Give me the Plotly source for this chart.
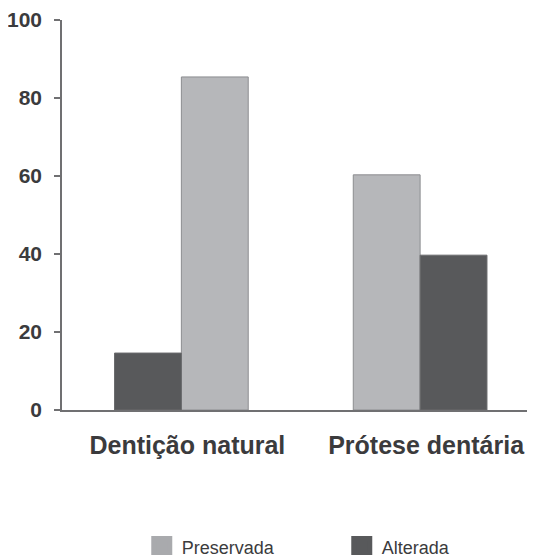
import plotly.graph_objects as go

categories = ["Dentição natural", "Prótese dentária"]
preservada = [85.4, 60.3]
alterada = [14.6, 39.7]
y_ticks = [0, 20, 40, 60, 80, 100]

FONT = "Liberation Sans, Arial, sans-serif"
TEXT = "#3b3b3d"
LIGHT = "#b6b7ba"
DARK = "#58595b"
W = 0.28

fig = go.Figure()
fig.add_trace(go.Bar(
    name="Preservada", x=categories, y=preservada, legendgroup="p", showlegend=False,
    width=W, offset=[0, -W],
    marker=dict(color=LIGHT, line=dict(color="#8c8d90", width=1)),
))
fig.add_trace(go.Bar(
    name="Alterada", x=categories, y=alterada, legendgroup="a", showlegend=False,
    width=W, offset=[-W, 0],
    marker=dict(color=DARK, line=dict(color="#6a6b6d", width=1)),
))
# legend keys (larger square swatches than the default bar key)
for name, col, grp in [("Preservada", "#a9aaad", "p"), ("Alterada", DARK, "a")]:
    fig.add_trace(go.Scatter(
        name=name, x=[None], y=[None], mode="markers", legendgroup=grp,
        marker=dict(symbol="square", size=30, color=col, line=dict(color=col, width=5)),
        hoverinfo="skip",
    ))

fig.update_layout(
    width=535, height=555,
    margin=dict(l=54, r=9, t=12, b=153, autoexpand=False),
    barmode="overlay",
    plot_bgcolor="white", paper_bgcolor="white",
    font=dict(family=FONT, color=TEXT),
    legend=dict(
        orientation="h", x=0.169, xanchor="left", y=-0.351, yanchor="middle",
        entrywidth=155, entrywidthmode="pixels",
        font=dict(family=FONT, size=18, color=TEXT),
        itemsizing="trace",
    ),
    showlegend=True,
)
fig.update_xaxes(
    range=[-0.5, 1.477], showline=True, linecolor="#707072", linewidth=2,
    ticks="", showgrid=False, zeroline=False, tickangle=0, automargin=False,
    tickfont=dict(family=FONT, size=25, color=TEXT, weight="bold"),
    ticklabelstandoff=12, ticklabelshift=6,
)
fig.update_yaxes(
    range=[0, 100], tickvals=y_ticks, showline=True, linecolor="#707072", linewidth=1.5,
    ticks="outside", ticklen=6, tickcolor="#707072", tickwidth=1.5,
    showgrid=False, zeroline=False, automargin=False,
    tickfont=dict(family=FONT, size=21, color=TEXT, weight="bold"),
    ticklabelstandoff=8,
)

fig.write_html("out.html")
